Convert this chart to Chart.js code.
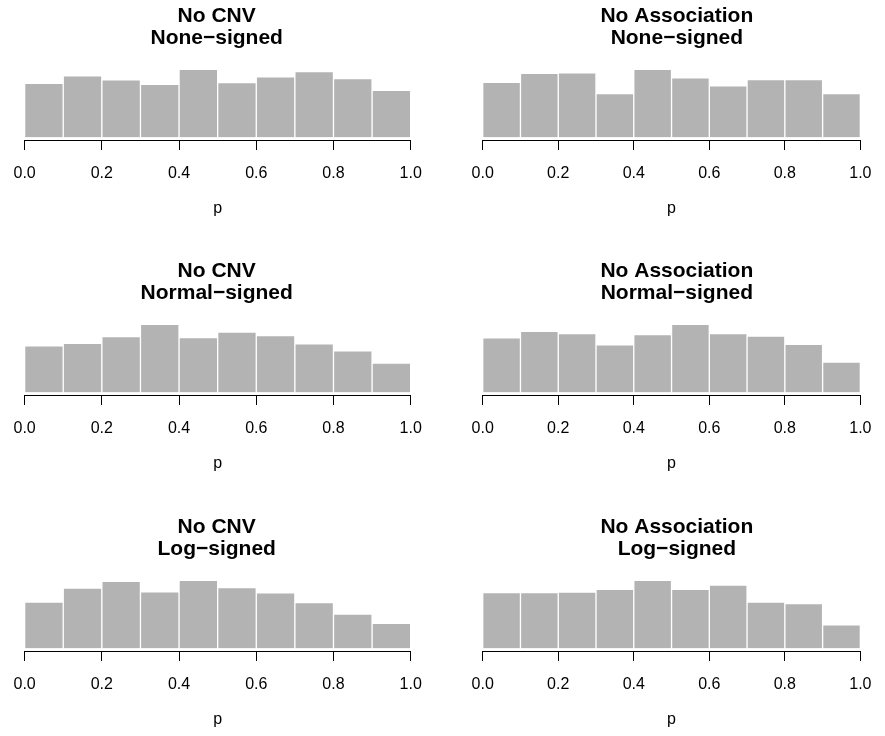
<!DOCTYPE html>
<html>
<head>
<meta charset="utf-8">
<script src="https://cdn.jsdelivr.net/npm/chart.js@4.4.0/dist/chart.umd.min.js"></script>
<style>
  html, body { margin: 0; padding: 0; background: #fff; overflow: hidden; }
  #page { position: relative; width: 885px; height: 736px; overflow: hidden; }
  #page canvas { position: absolute; }
</style>
</head>
<body>
<div id="page"></div>
<script>
// histogram bins of p (width 0.1), counts per bin
const binMids = [0.05, 0.15, 0.25, 0.35, 0.45, 0.55, 0.65, 0.75, 0.85, 0.95];
const pTicks = [0.0, 0.2, 0.4, 0.6, 0.8, 1.0];

const noCnvNone = [93, 106, 99, 91, 117, 94, 104, 113, 101, 81];
const noAssocNone = [97, 113, 114, 77, 120, 105, 91, 102, 102, 77];
const noCnvNormal = [91, 96, 109, 133, 107, 118, 111, 95, 81, 57];
const noAssocNormal = [101, 113, 109, 88, 107, 126, 109, 104, 89, 56];
const noCnvLog = [89, 116, 129, 109, 131, 117, 107, 88, 66, 48];
const noAssocLog = [105, 105, 106, 111, 128, 111, 119, 87, 84, 44];

const FONT = '"Liberation Sans", Arial, Helvetica, sans-serif';

const panels = [
  { title: ['No CNV', 'None\u2212signed'], counts: noCnvNone, col: 0, row: 0 },
  { title: ['No Association', 'None\u2212signed'], counts: noAssocNone, col: 1, row: 0 },
  { title: ['No CNV', 'Normal\u2212signed'], counts: noCnvNormal, col: 0, row: 1 },
  { title: ['No Association', 'Normal\u2212signed'], counts: noAssocNormal, col: 1, row: 1 },
  { title: ['No CNV', 'Log\u2212signed'], counts: noCnvLog, col: 0, row: 2 },
  { title: ['No Association', 'Log\u2212signed'], counts: noAssocLog, col: 1, row: 2 },
];

// column / row placement of each small plot
const colBox = [
  { left: 0, width: 442, padLeft: 22.7, padRight: 31.3 },
  { left: 442, width: 443, padLeft: 40.7, padRight: 14 },
];
const rowTop = [0, 255, 511];
const PANEL_H = 230;

const page = document.getElementById('page');

panels.forEach(p => {
  const c = colBox[p.col];
  const canvas = document.createElement('canvas');
  canvas.width = c.width;
  canvas.height = PANEL_H;
  canvas.style.left = c.left + 'px';
  canvas.style.top = rowTop[p.row] + 'px';
  canvas.style.width = c.width + 'px';
  canvas.style.height = PANEL_H + 'px';
  page.appendChild(canvas);

  const top = Math.max(...p.counts);

  new Chart(canvas.getContext('2d'), {
    type: 'bar',
    data: {
      datasets: [{
        data: binMids.map((x, i) => ({ x, y: p.counts[i] })),
        backgroundColor: '#b3b3b3',
        borderColor: '#ffffff',
        borderWidth: 1,
        barPercentage: 1,
        categoryPercentage: 1,
      }]
    },
    options: {
      responsive: false,
      animation: false,
      devicePixelRatio: 1,
      layout: { padding: { left: c.padLeft, right: c.padRight, top: 0, bottom: 11.9 } },
      plugins: {
        legend: { display: false },
        tooltip: { enabled: false },
        title: {
          display: true,
          text: p.title,
          color: '#000',
          font: { family: FONT, size: 21, weight: 'bold', lineHeight: '22.5px' },
          padding: { top: 4.75, bottom: 16.85 },
        },
      },
      scales: {
        x: {
          type: 'linear',
          min: 0,
          max: 1,
          offset: false,
          afterBuildTicks: axis => { axis.ticks = pTicks.map(value => ({ value })); },
          ticks: {
            color: '#000',
            font: { family: FONT, size: 16 },
            padding: 13.5,
            maxRotation: 0,
            autoSkip: false,
            callback: v => v.toFixed(1),
          },
          grid: {
            offset: false,
            drawOnChartArea: false,
            drawTicks: true,
            tickLength: 10,
            color: '#000',
            lineWidth: 1,
          },
          border: { display: true, color: '#000', width: 1 },
          title: {
            display: true,
            text: 'p',
            color: '#000',
            font: { family: FONT, size: 16 },
            padding: { top: 2.7, bottom: 0 },
          },
        },
        y: {
          display: false,
          min: -0.04 * top,
          max: 1.04 * top,
        },
      },
    },
  });
});
</script>
</body>
</html>
